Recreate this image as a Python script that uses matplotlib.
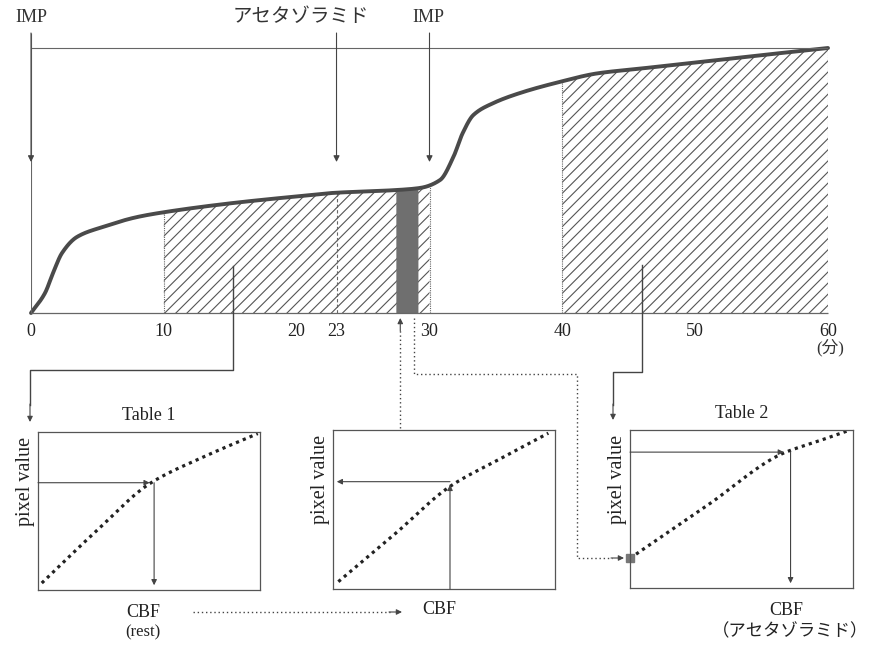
import numpy as np
import matplotlib
matplotlib.use('Agg')
import matplotlib.pyplot as plt

plt.rcParams['hatch.linewidth'] = 0.8
plt.rcParams['hatch.color'] = '#555555'

SERIF = ['Liberation Serif', 'Noto Sans CJK JP']
INK = '#444444'

# time-density curve (minutes, relative density where 100 = plateau line)
t_min = [0, 1.05, 1.66, 2.33, 3.46, 5.42, 7.98, 10.1, 15.2, 20, 22.7, 27.5, 29.3,
         30.8, 31.8, 32.5, 33.3, 34.8, 36.8, 39.8, 42.6, 46, 50.4, 55, 60]
density = [0, 7.5, 15.1, 22.6, 28.7, 32.5, 36.2, 38.1, 41.5, 44.0, 45.3, 46.4, 47.2,
           50.2, 58.9, 67.9, 74.7, 79.2, 83.0, 87.2, 90.4, 92.3, 94.7, 97.3, 100]

rest_window = (10, 30)
acz_window = (40, 60)
sample_window = (27.5, 29.1)
ticks = [0, 10, 20, 23, 30, 40, 50, 60]
events = [0, 23, 30]
event_labels = ['IMP', 'アセタゾラミド', 'IMP']
event_label_x = [0, 20.3, 29.9]

# lookup tables (relative CBF vs pixel value)
table1_cbf = [0.017, 0.26, 0.505, 0.75, 0.99]
table1_pix = [0.044, 0.37, 0.675, 0.845, 0.99]
table1_hit = (0.523, 0.679)
mid_cbf = [0.024, 0.274, 0.527, 0.752, 0.97]
mid_pix = [0.046, 0.34, 0.645, 0.818, 0.98]
mid_hit = (0.527, 0.675)
table2_cbf = [0.0, 0.344, 0.687, 0.837, 0.987]
table2_pix = [0.188, 0.52, 0.853, 0.926, 1.0]
table2_hit = (0.72, 0.86)


def smooth(x, y, xs):
    # monotone cubic (pchip style) through the read points, for drawing only
    x = np.asarray(x, float)
    y = np.asarray(y, float)
    h = np.diff(x)
    d = np.diff(y) / h
    m = np.zeros_like(y)
    for k in range(1, len(x) - 1):
        if d[k - 1] * d[k] > 0:
            w1 = 2 * h[k] + h[k - 1]
            w2 = h[k] + 2 * h[k - 1]
            m[k] = (w1 + w2) / (w1 / d[k - 1] + w2 / d[k])
    m[0], m[-1] = d[0], d[-1]
    i = np.clip(np.searchsorted(x, xs) - 1, 0, len(h) - 1)
    t = (xs - x[i]) / h[i]
    return ((2 * t**3 - 3 * t**2 + 1) * y[i] + (t**3 - 2 * t**2 + t) * h[i] * m[i]
            + (-2 * t**3 + 3 * t**2) * y[i + 1] + (t**3 - t**2) * h[i] * m[i + 1])


W, H = 875, 650
fig = plt.figure(figsize=(W / 100, H / 100), dpi=100)

# main curve axes: x 0..60 min spans px 31..828, baseline at px 313
x0, x1, base_px, top_px = 31, 828, 313, 48
unit = (base_px - top_px) / 100.0
ymax = base_px / unit
ax = fig.add_axes([x0 / W, (H - base_px) / H, (x1 - x0) / W, base_px / H])
ax.set_xlim(0, 60)
ax.set_ylim(0, ymax)
for s in ax.spines.values():
    s.set_visible(False)
ax.set_yticks([])
ax.set_xticks(ticks)
ax.set_xticklabels([str(t) for t in ticks], family=SERIF, fontsize=13, color='#222')
ax.tick_params(axis='x', length=0, pad=7)

tt = np.linspace(0, 60, 2401)
yy = smooth(t_min, density, tt)

rest = (tt >= rest_window[0]) & (tt <= rest_window[1])
acz = (tt >= acz_window[0]) & (tt <= acz_window[1])
smp = (tt >= sample_window[0]) & (tt <= sample_window[1])
for m in (rest, acz):
    ax.fill_between(tt, 0, yy, where=m, facecolor='none', edgecolor='#555555',
                    hatch='///', linewidth=0)
ax.fill_between(tt, 0, yy, where=smp, facecolor='#6f6f6f', edgecolor='#6f6f6f', linewidth=0.5)


def curve_at(t):
    return float(smooth(t_min, density, np.array([t]))[0])


for t in (rest_window[0], rest_window[1], acz_window[0], acz_window[1]):
    ax.vlines(t, 0, curve_at(t), color='#666666', lw=0.8, linestyles=(0, (1, 1)))
ax.vlines(23, 0, curve_at(23), color='#666666', lw=0.8, linestyles=(0, (3, 2)))

ax.plot(tt, yy, color='#4a4a4a', lw=2.8, solid_capstyle='round', clip_on=False)
ax.hlines(0, 0, 60, color='#666666', lw=0.9, clip_on=False)
ax.hlines(100, 0, 60, color='#666666', lw=0.8)
ax.vlines(0, 0, 105.7, color='#666666', lw=0.8)

arrow_top = (base_px - 33) / unit
arrow_tip = (base_px - 162) / unit
for t in events:
    ax.annotate('', xy=(t, arrow_tip), xytext=(t, arrow_top),
                arrowprops=dict(arrowstyle='-|>', mutation_scale=9, lw=0.8,
                                color=INK, shrinkA=0, shrinkB=0))
for xl, lab in zip(event_label_x, event_labels):
    ax.text(xl, (base_px - 17) / unit, lab, ha='center', va='center',
            family=SERIF, fontsize=13 if lab == 'IMP' else 14, color='#333')
ax.text(60.2, -13, '(分)', ha='center', va='center', family=SERIF, fontsize=12, color='#333')


# lookup-table panels
def panel(rect_px, cbf, pix, title=None):
    l, t, r, b = rect_px
    p = fig.add_axes([l / W, (H - b) / H, (r - l) / W, (b - t) / H])
    p.set_xlim(0, 1)
    p.set_ylim(0, 1)
    p.set_xticks([])
    p.set_yticks([])
    for s in p.spines.values():
        s.set_color('#555555')
        s.set_linewidth(0.9)
    cx = np.linspace(cbf[0], cbf[-1], 200)
    p.plot(cx, smooth(cbf, pix, cx), color='#222222', lw=2.3, linestyle=(0, (1, 1.3)))
    if title:
        p.set_title(title, family=SERIF, fontsize=13, pad=9, color='#222')
    p.text(-0.055, 0.69, 'pixel value', rotation=90, ha='center', va='center',
           transform=p.transAxes, family=SERIF, fontsize=14.5, color='#222')
    return p


arr = dict(arrowstyle='-|>', mutation_scale=8, lw=0.8, color=INK, shrinkA=0, shrinkB=0)

p1 = panel((38, 432, 260, 590), table1_cbf, table1_pix, 'Table 1')
p1.annotate('', xy=(table1_hit[0] - 0.02, table1_hit[1]), xytext=(0, table1_hit[1]), arrowprops=arr)
p1.annotate('', xy=(table1_hit[0], 0.03), xytext=table1_hit, arrowprops=arr)
p1.text(0.473, -0.14, 'CBF', transform=p1.transAxes, ha='center', va='center',
        family=SERIF, fontsize=13, color='#222')
p1.text(0.473, -0.27, '(rest)', transform=p1.transAxes, ha='center', va='center',
        family=SERIF, fontsize=12, color='#222')

p2 = panel((333, 430, 555, 589), mid_cbf, mid_pix)
p2.annotate('', xy=(0.017, mid_hit[1]), xytext=mid_hit, arrowprops=arr)
p2.annotate('', xy=(mid_hit[0], mid_hit[1] - 0.02), xytext=(mid_hit[0], 0), arrowprops=arr)
p2.text(0.477, -0.13, 'CBF', transform=p2.transAxes, ha='center', va='center',
        family=SERIF, fontsize=13, color='#222')

p3 = panel((630, 430, 853, 588), table2_cbf, table2_pix, 'Table 2')
p3.plot([table2_cbf[0]], [table2_pix[0]], 's', ms=6, color='#777777', clip_on=False)
p3.annotate('', xy=(table2_hit[0] - 0.03, table2_hit[1]), xytext=(0, table2_hit[1]), arrowprops=arr)
p3.annotate('', xy=(table2_hit[0], 0.03), xytext=table2_hit, arrowprops=arr)
p3.text(0.70, -0.14, 'CBF', transform=p3.transAxes, ha='center', va='center',
        family=SERIF, fontsize=13, color='#222')
p3.text(0.717, -0.28, '（アセタゾラミド）', transform=p3.transAxes, ha='center', va='center',
        family=SERIF, fontsize=12.5, color='#222')

# connectors drawn in figure pixel space
ov = fig.add_axes([0, 0, 1, 1])
ov.set_xlim(0, W)
ov.set_ylim(H, 0)
ov.set_axis_off()


def px(t):
    return x0 + t * (x1 - x0) / 60.0


dot = (0, (1, 2))
cx = px(15.2)
ov.plot([cx, cx, 30, 30], [266, 370, 370, 405], color=INK, lw=1)
ov.annotate('', xy=(30, 422), xytext=(30, 404), arrowprops=arr)
cx = px(46.0)
ov.plot([cx, cx, 613, 613], [265, 372, 372, 405], color=INK, lw=1)
ov.annotate('', xy=(613, 420), xytext=(613, 404), arrowprops=arr)

ux = px(27.8)
ov.plot([ux, ux], [428, 330], color=INK, lw=1, linestyle=dot)
ov.annotate('', xy=(ux, 318), xytext=(ux, 331), arrowprops=arr)
dx = px(28.8)
ov.plot([dx, dx, 577, 577, 612], [318, 374, 374, 558, 558], color=INK, lw=1, linestyle=dot)
ov.annotate('', xy=(624, 558), xytext=(611, 558), arrowprops=arr)
ov.plot([193, 390], [612, 612], color=INK, lw=1, linestyle=dot)
ov.annotate('', xy=(402, 612), xytext=(389, 612), arrowprops=arr)

fig.savefig('out.png', dpi=100)
